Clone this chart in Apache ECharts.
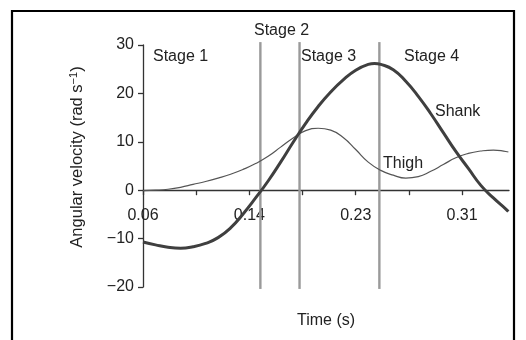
<!DOCTYPE html>
<html>
<head>
<meta charset="utf-8">
<script src="https://cdn.jsdelivr.net/npm/echarts@6/dist/echarts.min.js"></script>
<style>
html,body{margin:0;padding:0;background:#fff;}
#chart{width:526px;height:340px;}
</style>
</head>
<body>
<div id="chart"></div>
<script>
// Time (s) and angular velocity (rad s^-1)
const shankTime  = [0.06, 0.07, 0.08, 0.09, 0.10, 0.11, 0.12, 0.13, 0.14, 0.15, 0.16, 0.17, 0.18, 0.19, 0.20, 0.21, 0.22, 0.23, 0.24, 0.245, 0.25, 0.26, 0.27, 0.28, 0.29, 0.30, 0.31, 0.32, 0.33, 0.34, 0.35, 0.352];
const shankValue = [-10.7, -11.3, -11.8, -12.0, -11.7, -11.0, -9.8, -7.8, -4.9, -1.6, 1.9, 5.8, 9.9, 13.8, 17.3, 20.3, 22.8, 24.8, 26.0, 26.2, 26.0, 24.9, 22.5, 19.4, 15.8, 11.9, 8.0, 4.5, 1.0, -1.6, -3.9, -4.4];
const thighTime  = [0.06, 0.07, 0.08, 0.09, 0.10, 0.11, 0.12, 0.13, 0.14, 0.15, 0.16, 0.17, 0.18, 0.19, 0.20, 0.21, 0.22, 0.23, 0.24, 0.25, 0.26, 0.27, 0.28, 0.29, 0.30, 0.31, 0.32, 0.33, 0.34, 0.35, 0.352];
const thighValue = [-0.1, 0.0, 0.2, 0.6, 1.2, 1.8, 2.5, 3.3, 4.3, 5.5, 7.0, 8.9, 10.8, 12.3, 12.8, 12.4, 10.9, 8.4, 5.8, 4.1, 3.1, 2.5, 2.8, 3.9, 5.3, 6.7, 7.6, 8.1, 8.3, 8.0, 7.9];
const stageBoundaries = [0.1538, 0.1851, 0.2489];
const stageNames = ['Stage 1', 'Stage 2', 'Stage 3', 'Stage 4'];
const seriesNames = ['Shank', 'Thigh'];
const xTickLabels = ['0.06', '', '0.14', '', '0.23', '', '0.31'];
const xStart = 0.06;      // time at first tick
const xStep = 0.0425;     // seconds per tick
const xEnd = 0.3525;      // end of axis
const yTicks = [-20, -10, 0, 10, 20, 30];

const toX = t => (t - xStart) / xStep;
const pairs = (ts, vs) => ts.map((t, i) => [toX(t), vs[i]]);

const font = 'Liberation Sans, Arial, Helvetica, sans-serif';
const txt = '#222';

const gridTop = 45, gridBottom = 53, H = 340;
const yMin = yTicks[0], yMax = yTicks[yTicks.length - 1];
const plotH = H - gridTop - gridBottom;
// shift the x axis from the grid bottom up to the value 0
const zeroOffset = -plotH * (0 - yMin) / (yMax - yMin);

const stageLineSeries = stageBoundaries.map(t => ({
  type: 'line',
  data: [[toX(t), 30.6], [toX(t), -20.4]],
  symbol: 'none',
  clip: false,
  silent: true,
  z: 1,
  lineStyle: { color: '#9a9a9a', width: 2.4 }
}));

const chart = echarts.init(document.getElementById('chart'), null, { renderer: 'canvas' });
chart.setOption({
  animation: false,
  backgroundColor: '#fff',
  grid: { left: 143, right: 17, top: gridTop, bottom: gridBottom, containLabel: false, outerBoundsMode: 'none' },
  xAxis: {
    type: 'value',
    position: 'bottom',
    offset: zeroOffset,
    min: 0,
    max: toX(xEnd),
    interval: 1,
    name: 'Time (s)',
    nameLocation: 'middle',
    nameGap: 122,
    nameMoveOverlap: false,
    nameTextStyle: { fontFamily: font, fontSize: 16, color: txt },
    splitLine: { show: false },
    axisLine: { onZero: false, lineStyle: { color: '#333', width: 1.3 } },
    axisTick: { show: true, length: 5, lineStyle: { color: '#333', width: 1.3 }, customValues: [0, 1, 2, 3, 4, 5, 6] },
    axisLabel: {
      customValues: [0, 2, 4, 6],
      margin: 17,
      fontFamily: font, fontSize: 16, color: txt,
      formatter: v => xTickLabels[Math.round(v)] || ''
    }
  },
  yAxis: {
    type: 'value',
    min: yMin,
    max: yMax,
    interval: 10,
    name: 'Angular velocity (rad s{sup|−1})',
    nameLocation: 'middle',
    nameGap: 56,
    nameMoveOverlap: false,
    nameTextStyle: {
      fontFamily: font, fontSize: 16.5, color: txt, padding: [0, 0, 0, 18],
      rich: { sup: { fontFamily: font, fontSize: 11, color: txt, padding: [0, 0, 8, 0] } }
    },
    splitLine: { show: false },
    axisLine: { show: true, lineStyle: { color: '#333', width: 1.3 } },
    axisTick: { show: true, length: 5, lineStyle: { color: '#333', width: 1.3 } },
    axisLabel: {
      margin: 9,
      fontFamily: font, fontSize: 16, color: txt,
      formatter: v => (v < 0 ? '\u2212' + Math.abs(v) : String(v))
    }
  },
  series: [
    ...stageLineSeries,
    {
      name: seriesNames[0],
      type: 'line',
      data: pairs(shankTime, shankValue),
      smooth: true,
      symbol: 'none',
      z: 3,
      lineStyle: { color: '#3f3f3f', width: 3 }
    },
    {
      name: seriesNames[1],
      type: 'line',
      data: pairs(thighTime, thighValue),
      smooth: true,
      symbol: 'none',
      z: 2,
      lineStyle: { color: '#555', width: 1.2 }
    }
  ],
  graphic: [
    { type: 'rect', shape: { x: 12, y: 11, width: 502, height: 345 }, style: { fill: 'none', stroke: '#000', lineWidth: 2.2 }, silent: true },
    { type: 'text', x: 153, y: 57, style: { text: stageNames[0], font: '16px ' + font, fill: txt, textVerticalAlign: 'middle' } },
    { type: 'text', x: 254, y: 31, style: { text: stageNames[1], font: '16px ' + font, fill: txt, textVerticalAlign: 'middle' } },
    { type: 'text', x: 301, y: 57, style: { text: stageNames[2], font: '16px ' + font, fill: txt, textVerticalAlign: 'middle' } },
    { type: 'text', x: 404, y: 57, style: { text: stageNames[3], font: '16px ' + font, fill: txt, textVerticalAlign: 'middle' } },
    { type: 'text', x: 435, y: 112, style: { text: seriesNames[0], font: '16px ' + font, fill: txt, textVerticalAlign: 'middle' } },
    { type: 'text', x: 383, y: 164, style: { text: seriesNames[1], font: '16px ' + font, fill: txt, textVerticalAlign: 'middle' } }
  ]
});
</script>
</body>
</html>
